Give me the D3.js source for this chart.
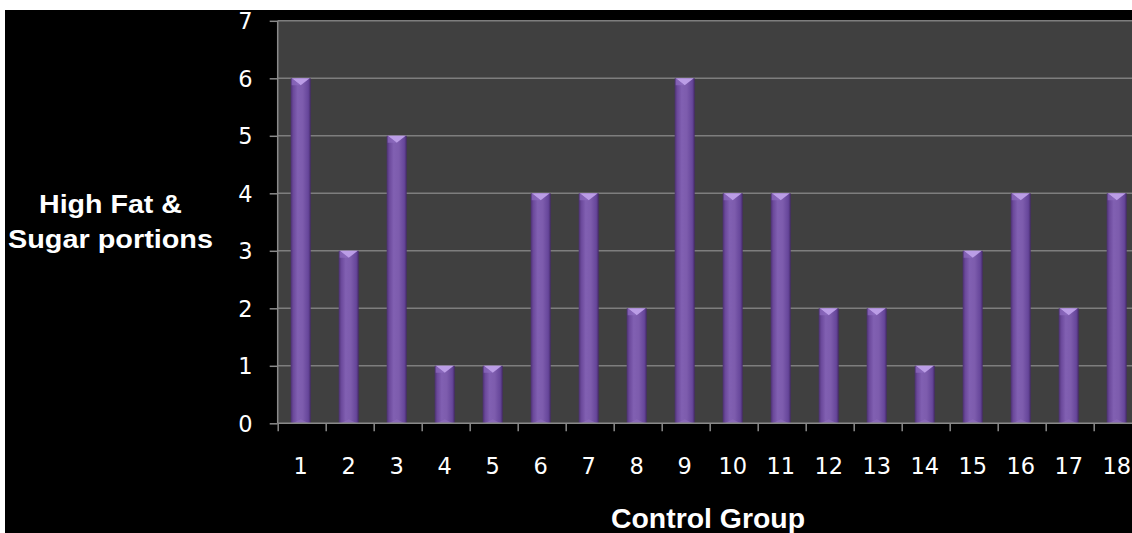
<!DOCTYPE html>
<html>
<head>
<meta charset="utf-8">
<script src="https://cdn.jsdelivr.net/npm/d3@7"></script>
<style>
  html, body { margin: 0; padding: 0; background: #fff; }
  svg { display: block; }
</style>
</head>
<body>
<svg id="chart" width="1132" height="533"></svg>
<script>
// Portions of high fat & sugar foods per participant, control group
const participants = ["1","2","3","4","5","6","7","8","9","10","11","12","13","14","15","16","17","18"];
const portions = [6, 3, 5, 1, 1, 4, 4, 2, 6, 4, 4, 2, 2, 1, 3, 4, 2, 4];
const yTicks = [0, 1, 2, 3, 4, 5, 6, 7];
const yTitleLines = ["High Fat &", "Sugar portions"];
const xTitle = "Control Group";

const W = 1132, H = 533;
const plot = { left: 277.7, right: 1141.7, top: 20.8, bottom: 423.3 };
const tickFont = "'DejaVu Sans', sans-serif";

const svg = d3.select("#chart");

// background
svg.append("rect").attr("x", 0).attr("y", 0).attr("width", W).attr("height", H).attr("fill", "#000");

const x = d3.scaleBand().domain(participants).range([plot.left, plot.right]).paddingInner(0).paddingOuter(0);
const xEdge = d3.scaleLinear().domain([0, participants.length]).range([plot.left, plot.right]);
const y = d3.scaleLinear().domain([0, 7]).range([plot.bottom, plot.top]);

const defs = svg.append("defs");
const grad = defs.append("linearGradient").attr("id", "barFill").attr("x1", "0").attr("x2", "1").attr("y1", "0").attr("y2", "0");
[[0, "#4a306e"], [0.12, "#6a489a"], [0.35, "#8160b2"], [0.6, "#7d5cad"], [0.88, "#66469a"], [1, "#45296a"]]
  .forEach(([o, c]) => grad.append("stop").attr("offset", o).attr("stop-color", c));

// plot area
svg.append("rect")
  .attr("x", plot.left).attr("y", plot.top)
  .attr("width", plot.right - plot.left).attr("height", plot.bottom - plot.top)
  .attr("fill", "#404040");

// horizontal gridlines
svg.append("g").selectAll("line").data(yTicks.filter(t => t > 0)).join("line")
  .attr("x1", plot.left).attr("x2", plot.right)
  .attr("y1", d => y(d)).attr("y2", d => y(d))
  .attr("stroke", "#7e7e7e").attr("stroke-width", 1.5);

// bars
const barW = 20;
const barX = d => x(d.p) + (x.bandwidth() - barW) / 2 - 1;
const bars = svg.append("g").selectAll("g").data(participants.map((p, i) => ({ p, v: portions[i] }))).join("g");
bars.append("rect")
  .attr("x", barX)
  .attr("y", d => y(d.v))
  .attr("width", barW)
  .attr("height", d => y(0) - y(d.v))
  .attr("fill", "url(#barFill)");
// top bevel
bars.append("path")
  .attr("d", d => {
    const x0 = barX(d), y0 = y(d.v);
    return `M${x0 + 1},${y0} L${x0 + barW - 1},${y0} L${x0 + barW / 2},${y0 + 7} Z`;
  })
  .attr("fill", "#bb9de6");
bars.append("path")
  .attr("d", d => {
    const x0 = barX(d), y0 = y(d.v);
    return `M${x0 + 1},${y0} L${x0 + barW / 2},${y0 + 7} L${x0 + 1},${y0 + 7} Z`;
  })
  .attr("fill", "#8e6cc0").attr("opacity", 0.7);
// bottom bevel
bars.append("path")
  .attr("d", d => {
    const x0 = barX(d), y0 = y(0);
    return `M${x0 + 2},${y0} L${x0 + barW - 2},${y0} L${x0 + barW / 2},${y0 - 4} Z`;
  })
  .attr("fill", "#8f6fbd").attr("opacity", 0.6);

// y axis
const yAxis = svg.append("g").attr("transform", `translate(${plot.left},0)`)
  .call(d3.axisLeft(y).tickValues(yTicks).tickSize(8).tickPadding(17).tickFormat(d3.format("d")));
yAxis.select(".domain").attr("stroke", "#8a8a8a").attr("stroke-width", 1.5).attr("d", `M0,${plot.top}V${plot.bottom}`);
yAxis.selectAll(".tick line").attr("stroke", "#8a8a8a").attr("stroke-width", 1.5);
yAxis.selectAll(".tick text").attr("fill", "#fff").attr("font-family", tickFont).attr("font-size", 22.5).attr("dy", "0.36em");

// x axis boundary ticks
const xTicks = svg.append("g").attr("transform", `translate(0,${plot.bottom})`)
  .call(d3.axisBottom(xEdge).tickValues(d3.range(participants.length + 1)).tickSize(8).tickFormat(""));
xTicks.select(".domain").attr("stroke", "#8a8a8a").attr("stroke-width", 1.5).attr("d", `M${plot.left},0H${plot.right}`);
xTicks.selectAll(".tick line").attr("stroke", "#8a8a8a").attr("stroke-width", 1.5);

// x category labels
const xLabels = svg.append("g").attr("transform", `translate(-1,${plot.bottom})`)
  .call(d3.axisBottom(x).tickSize(0).tickPadding(35));
xLabels.select(".domain").remove();
xLabels.selectAll(".tick text").attr("fill", "#fff").attr("font-family", tickFont).attr("font-size", 22.5);

// axis titles
svg.append("text")
  .attr("font-family", "'Liberation Sans', Arial, sans-serif").attr("font-weight", "bold")
  .attr("font-size", 25).attr("fill", "#fff").attr("text-anchor", "middle")
  .selectAll("tspan").data(yTitleLines).join("tspan")
  .attr("x", 110.5).attr("y", (d, i) => 213 + i * 35)
  .attr("textLength", (d, i) => i === 0 ? 143 : 205).attr("lengthAdjust", "spacingAndGlyphs")
  .text(d => d);

svg.append("text")
  .attr("x", 708).attr("y", 527.5)
  .attr("font-family", "'Liberation Sans', Arial, sans-serif").attr("font-weight", "bold")
  .attr("font-size", 27).attr("fill", "#fff").attr("text-anchor", "middle")
  .attr("textLength", 194).attr("lengthAdjust", "spacingAndGlyphs")
  .text(xTitle);

// page margins
svg.append("rect").attr("x", 0).attr("y", 0).attr("width", W).attr("height", 10).attr("fill", "#fff");
svg.append("rect").attr("x", 0).attr("y", 0).attr("width", 5).attr("height", H).attr("fill", "#fff");
</script>
</body>
</html>
